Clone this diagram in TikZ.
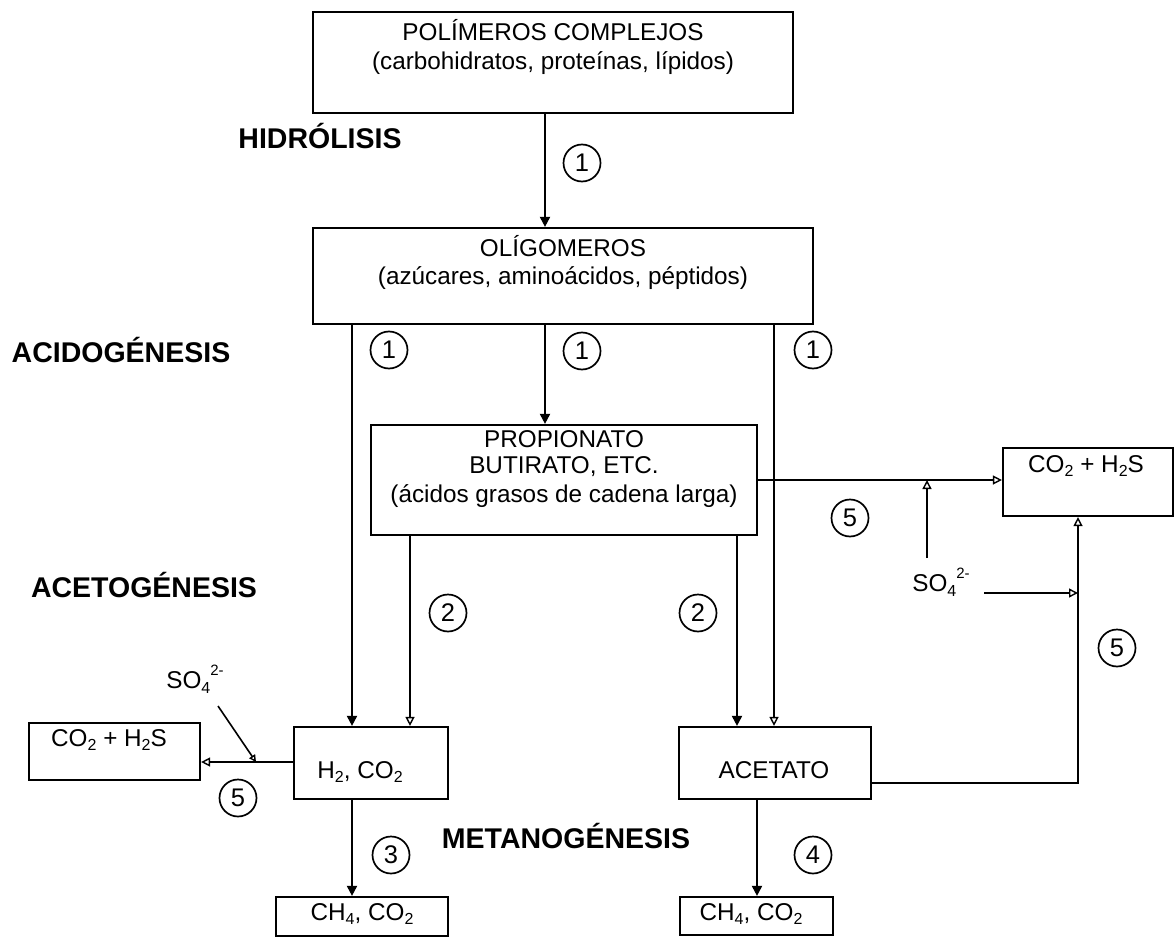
\documentclass[tikz,border=0pt]{standalone}
\usepackage{fontspec}
\setmainfont{Liberation Sans}
\usetikzlibrary{arrows.meta}
\newcommand{\sbs}[1]{\raisebox{-0.35ex}{\fontsize{16}{16}\selectfont #1}}
\newcommand{\sps}[1]{\raisebox{1.05ex}{\fontsize{15}{15}\selectfont #1}}
\begin{document}
\begin{tikzpicture}[x=1pt,y=-1pt,
  box/.style={draw, line width=2.2pt, inner sep=0pt},
  txt/.style={font=\fontsize{24.3}{29}\selectfont, inner sep=0pt, align=center},
  phase/.style={font=\fontsize{28.5}{32}\selectfont\bfseries, inner sep=0pt},
  num/.style={draw, circle, line width=1.7pt, minimum size=37pt, inner sep=0pt, font=\fontsize{25.5}{25.5}\selectfont},
  fil/.style={line width=1.9pt, -{Triangle[length=10pt,width=10pt]}},
  opn/.style={line width=1.6pt, -{Triangle[open,length=9pt,width=9pt,line width=1.4pt]}},
  sml/.style={line width=1.6pt, -{Triangle[open,length=7pt,width=7pt,line width=1.4pt]}}]
\useasboundingbox[fill=white] (0,0) rectangle (1176,942);

% boxes
\node[box, minimum width=480pt, minimum height=101pt] (pol) at (553,62.5) {};
\node[box, minimum width=500pt, minimum height=96pt] (olig) at (563,276) {};
\node[box, minimum width=386pt, minimum height=110pt] (prop) at (564,480) {};
\node[box, minimum width=170pt, minimum height=68pt] (co2r) at (1088,482) {};
\node[box, minimum width=171pt, minimum height=57pt] (co2l) at (114.5,751.5) {};
\node[box, minimum width=154pt, minimum height=72pt] (h2) at (371,763) {};
\node[box, minimum width=192pt, minimum height=72pt] (acet) at (775,763) {};
\node[box, minimum width=172pt, minimum height=39pt] (ch4a) at (362,916.5) {};
\node[box, minimum width=153pt, minimum height=38pt] (ch4b) at (756.5,916) {};

% box texts
\node[txt] (tpol1) at (553,30) {POLÍMEROS COMPLEJOS};
\node[txt] (tpol2) at (553,63) {(carbohidratos, proteínas, lípidos)};
\node[txt] (tolig1) at (563,246) {OLÍGOMEROS};
\node[txt] (tolig2) at (563,278) {(azúcares, aminoácidos, péptidos)};
\node[txt] (tprop1) at (564,439) {PROPIONATO};
\node[txt] (tprop2) at (564,467) {BUTIRATO, ETC.};
\node[txt] (tprop3) at (564,496) {(ácidos grasos de cadena larga)};
\node[txt] (tco2r) at (1086,466) {CO\sbs{2} + H\sbs{2}S};
\node[txt] (tco2l) at (109,740) {CO\sbs{2} + H\sbs{2}S};
\node[txt] (th2) at (360,772) {H\sbs{2}, CO\sbs{2}};
\node[txt] (tacet) at (774,770) {ACETATO};
\node[txt] (tch4a) at (362,914) {CH\sbs{4}, CO\sbs{2}};
\node[txt] (tch4b) at (751,914) {CH\sbs{4}, CO\sbs{2}};

% phase labels
\node[phase] (hid) at (320,136) {HIDRÓLISIS};
\node[phase] (aci) at (121,350) {ACIDOGÉNESIS};
\node[phase] (ace) at (144,585) {ACETOGÉNESIS};
\node[phase] (met) at (566,836) {METANOGÉNESIS};

% sulphate labels
\node[txt] (so4r) at (941,582) {SO\sbs{4}\sps{2-}};
\node[txt] (so4l) at (195,679) {SO\sbs{4}\sps{2-}};

% columns and free ends
\coordinate (cA) at (352,0);
\coordinate (cB) at (410,0);
\coordinate (cC) at (545,0);
\coordinate (cD) at (737,0);
\coordinate (cE) at (774,0);
\coordinate (cF) at (757,0);
\coordinate (cG) at (1078,0);
\coordinate (cH) at (927,0);
\coordinate (acY) at (0,783);
\coordinate (s1) at (927,558);
\coordinate (s2) at (984,593);
\coordinate (s3) at (218,706);
\coordinate (s4) at (256,762);

% connectors
\draw[fil] (pol.south -| cC) -- (olig.north -| cC);
\draw[fil] (olig.south -| cC) -- (prop.north -| cC);
\draw[fil] (olig.south -| cA) -- (h2.north -| cA);
\draw[opn] (olig.south -| cE) -- (acet.north -| cE);
\draw[opn] (prop.south -| cB) -- (h2.north -| cB);
\draw[fil] (prop.south -| cD) -- (acet.north -| cD);
\draw[opn] (prop.east) -- (prop.east -| co2r.west);
\draw[opn] (s1) -- (prop.east -| s1);
\draw[opn] (s2) -- (s2 -| cG);
\draw[opn] (acet.east |- acY) -| (co2r.south -| cG);
\draw[opn] (h2.west |- s4) -- (co2l.east |- s4);
\draw[sml] (s3) -- (s4);
\draw[fil] (h2.south -| cA) -- (ch4a.north -| cA);
\draw[fil] (acet.south -| cF) -- (ch4b.north -| cF);

% step numbers
\node[num] (n1a) at (582,163) {1};
\node[num] (n1b) at (389,350) {1};
\node[num] (n1c) at (582,351) {1};
\node[num] (n1d) at (813,350) {1};
\node[num] (n2a) at (448,613) {2};
\node[num] (n2b) at (698,613) {2};
\node[num] (n5a) at (850,518) {5};
\node[num] (n5b) at (1117,648) {5};
\node[num] (n5c) at (238,798) {5};
\node[num] (n3) at (391,855) {3};
\node[num] (n4) at (813,855) {4};
\end{tikzpicture}
\end{document}
